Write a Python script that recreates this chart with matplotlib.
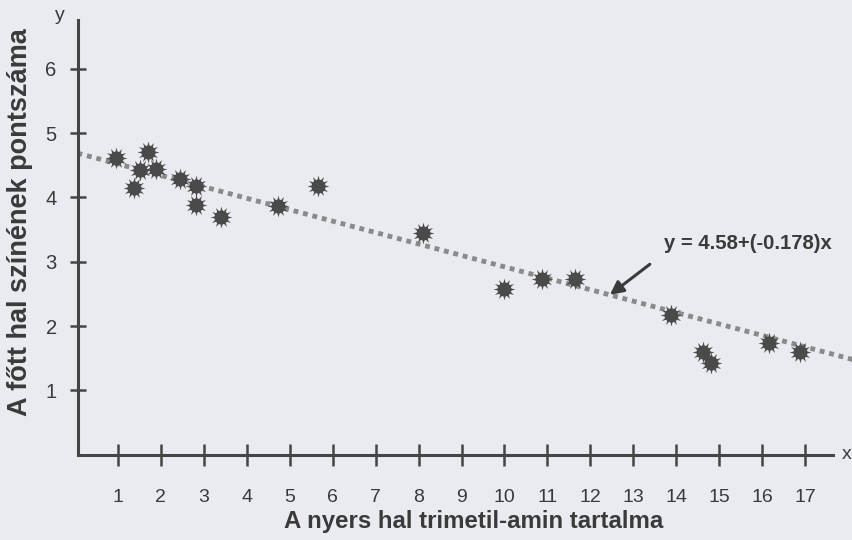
import matplotlib
matplotlib.use("Agg")
import matplotlib.pyplot as plt
import numpy as np

# Data
x_vals = [0.97, 1.38, 1.52, 1.72, 1.90, 2.45, 2.83, 2.83, 3.40, 4.74, 5.67,
          8.11, 9.99, 10.88, 11.64, 13.87, 14.61, 14.80, 16.16, 16.88]
y_vals = [4.61, 4.14, 4.43, 4.71, 4.44, 4.29, 4.18, 3.88, 3.70, 3.86, 4.17,
          3.45, 2.57, 2.73, 2.73, 2.17, 1.60, 1.42, 1.73, 1.60]

# Regression line as drawn in the figure
line_intercept = 4.70
line_slope = -0.178
equation_text = "y = 4.58+(-0.178)x"

x_ticks = list(range(1, 18))
y_ticks = [1, 2, 3, 4, 5, 6]
x_label = "A nyers hal trimetil-amin tartalma"
y_label = "A főtt hal színének pontszáma"

plt.rcParams['font.family'] = ['Liberation Sans', 'DejaVu Sans']

bg = "#e9ebf1"
ink = "#454545"
txt = "#3a3a3a"

fig = plt.figure(figsize=(8.53, 5.40), dpi=100, facecolor=bg)
ax = fig.add_axes([0, 0, 1, 1], facecolor=bg)

ax.set_xlim(-1.733, 18.105)
ax.set_ylim(-1.328, 7.070)

# Spines as axes lines
for s in ['top', 'right']:
    ax.spines[s].set_visible(False)
ax.spines['left'].set_position(('data', 0.07))
ax.spines['bottom'].set_position(('data', 0))
ax.spines['left'].set_bounds(0, 6.76)
ax.spines['bottom'].set_bounds(0.07, 17.63)
for s in ['left', 'bottom']:
    ax.spines[s].set_color(ink)
    ax.spines[s].set_linewidth(2.2)

ax.set_xticks(x_ticks)
ax.set_xticklabels([str(t) for t in x_ticks])
ax.set_yticks(y_ticks)
ax.set_yticklabels([str(t) for t in y_ticks])
ax.tick_params(axis='x', direction='inout', length=16, width=1.8, color=ink,
               labelsize=14, labelcolor=txt, pad=17)
ax.tick_params(axis='y', direction='inout', length=12, width=1.8, color=ink,
               labelsize=14.5, labelcolor=txt, pad=9)

# Regression line
lx = np.array([0.07, 18.3])
ax.plot(lx, line_intercept + line_slope * lx, color="#8a8a8a", lw=3.5,
        linestyle=(0, (1.0, 1.0)), dash_capstyle='butt', zorder=2)

# Points
ax.scatter(x_vals, y_vals, marker=(12, 1, 0), s=250, color="#4e4e4e",
           linewidths=0, zorder=3)
ax.scatter(x_vals, y_vals, marker='o', s=100, color="#4a4a4a",
           linewidths=0, zorder=4)

# Equation annotation with arrow
ax.annotate("", xy=(12.45, line_intercept + line_slope * 12.45), xytext=(13.38, 2.96),
            arrowprops=dict(arrowstyle='-|>', color="#3a3a3a", lw=2.2,
                            mutation_scale=20, shrinkA=0, shrinkB=0), zorder=5)
ax.text(15.65, 3.29, equation_text, ha='center', va='center', fontsize=14.6,
        fontweight='bold', color=txt)

# Axis letters
ax.text(17.96, 0, "x", ha='center', va='center', fontsize=14, color=txt)
ax.text(-0.34, 6.83, "y", ha='center', va='center', fontsize=14, color=txt)

# Axis titles
ax.text(9.29, -1.14, x_label, ha='center', va='baseline', fontsize=17.3,
        fontweight='bold', color=txt)
ax.text(-1.27, 3.61, y_label, ha='center', va='center', fontsize=19.5,
        fontweight='bold', color=txt, rotation=90)

fig.savefig("out.png", dpi=100, facecolor=bg)
